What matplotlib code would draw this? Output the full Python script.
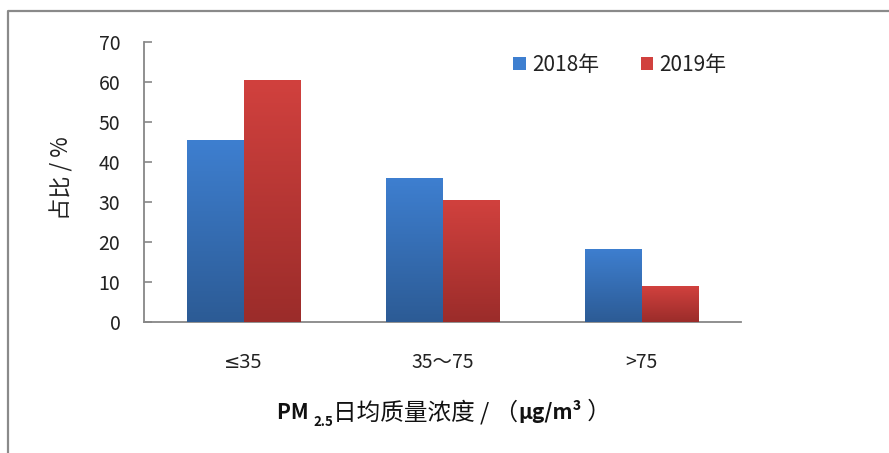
import numpy as np
import matplotlib
matplotlib.use("Agg")
import matplotlib.pyplot as plt
from matplotlib.colors import LinearSegmentedColormap
from matplotlib.lines import Line2D

plt.rcParams['font.family'] = ['Noto Sans CJK SC', 'DejaVu Sans']

categories = ['≤35', '35～75', '>75']
years = ['2018年', '2019年']
share_2018 = [45.5, 36.0, 18.3]
share_2019 = [60.4, 30.4, 9.0]

# top / bottom colours of the gradient fills
blue_top, blue_bottom = '#3e7fd0', '#2c5b95'
red_top, red_bottom = '#d1413e', '#9b2c2a'

W, H = 889, 453
fig = plt.figure(figsize=(W / 100, H / 100), dpi=100)
ax = fig.add_axes([144 / W, 1 - 322 / H, 597 / W, 280 / H])

x = np.arange(len(categories))
bw = 0.285
b1 = ax.bar(x - bw / 2, share_2018, bw, color=blue_top, label=years[0], zorder=2)
b2 = ax.bar(x + bw / 2, share_2019, bw, color=red_top, label=years[1], zorder=2)


def gradient_fill(bars, top, bottom):
    cmap = LinearSegmentedColormap.from_list('g', [bottom, top])
    grad = np.linspace(0, 1, 256).reshape(-1, 1)
    for p in bars:
        x0, w, h = p.get_x(), p.get_width(), p.get_height()
        im = ax.imshow(grad, cmap=cmap, origin='lower', aspect='auto',
                       extent=(x0, x0 + w, 0, h), zorder=3)
        im.set_clip_path(p)


gradient_fill(b1, blue_top, blue_bottom)
gradient_fill(b2, red_top, red_bottom)

ax.set_xlim(-0.5, 2.5)
ax.set_ylim(0, 70)
ax.set_yticks(range(0, 71, 10))
ax.set_xticks(x)
ax.set_xticklabels(categories)

for s in ['top', 'right']:
    ax.spines[s].set_visible(False)
for s in ['left', 'bottom']:
    ax.spines[s].set_color('#878787')
    ax.spines[s].set_linewidth(1.3)
ax.tick_params(axis='y', direction='in', length=6, width=1.2, color='#878787',
               pad=17, labelsize=14, labelcolor='#222222')
ax.tick_params(axis='x', length=0, pad=33, labelsize=14, labelcolor='#222222')
# baseline-aligned so the upright ≤ (other font) sits on the same line
for lab in ax.get_xticklabels():
    lab.set_verticalalignment('baseline')
ax.get_xticklabels()[0].set_family(['Noto Sans', 'DejaVu Sans'])

leg = ax.legend(handles=[b1, b2], loc='center left', ncol=2, frameon=False,
                bbox_to_anchor=(513 / W, 1 - 65 / H), bbox_transform=fig.transFigure,
                fontsize=15, handlelength=0.6, handleheight=0.6,
                handletextpad=0.3, columnspacing=2.0, borderpad=0, borderaxespad=0)
for t in leg.get_texts():
    t.set_color('#222222')

fig.text(62 / W, 1 - 178 / H, '占比 / %', rotation=90, ha='center', va='center',
         fontsize=16, color='#222222')

# x-axis title assembled from bold / regular pieces
fig.canvas.draw()
renderer = fig.canvas.get_renderer()
parts = [
    ('PM ', 'bold', 15, 0),
    ('2.5', 'bold', 9.5, -7),
    ('日均质量浓度 / （', 'normal', 17, 0),
    ('μg/m³', 'bold', 15, 0),
    (' ）', 'normal', 17, 0),
]
xpos = 277
base = 419
for s, wt, fs, dy in parts:
    t = fig.text(xpos / W, 1 - (base - dy) / H, s, fontsize=fs, fontweight=wt,
                 ha='left', va='baseline', color='#111111')
    bb = t.get_window_extent(renderer)
    xpos = bb.x1

# outer chart border
fig.add_artist(Line2D([7.5 / W, 7.5 / W, 1], [0, 1 - 11 / H, 1 - 11 / H],
                      transform=fig.transFigure, color='#8a8a8a', lw=1.6))

fig.savefig('out.png', dpi=100)
